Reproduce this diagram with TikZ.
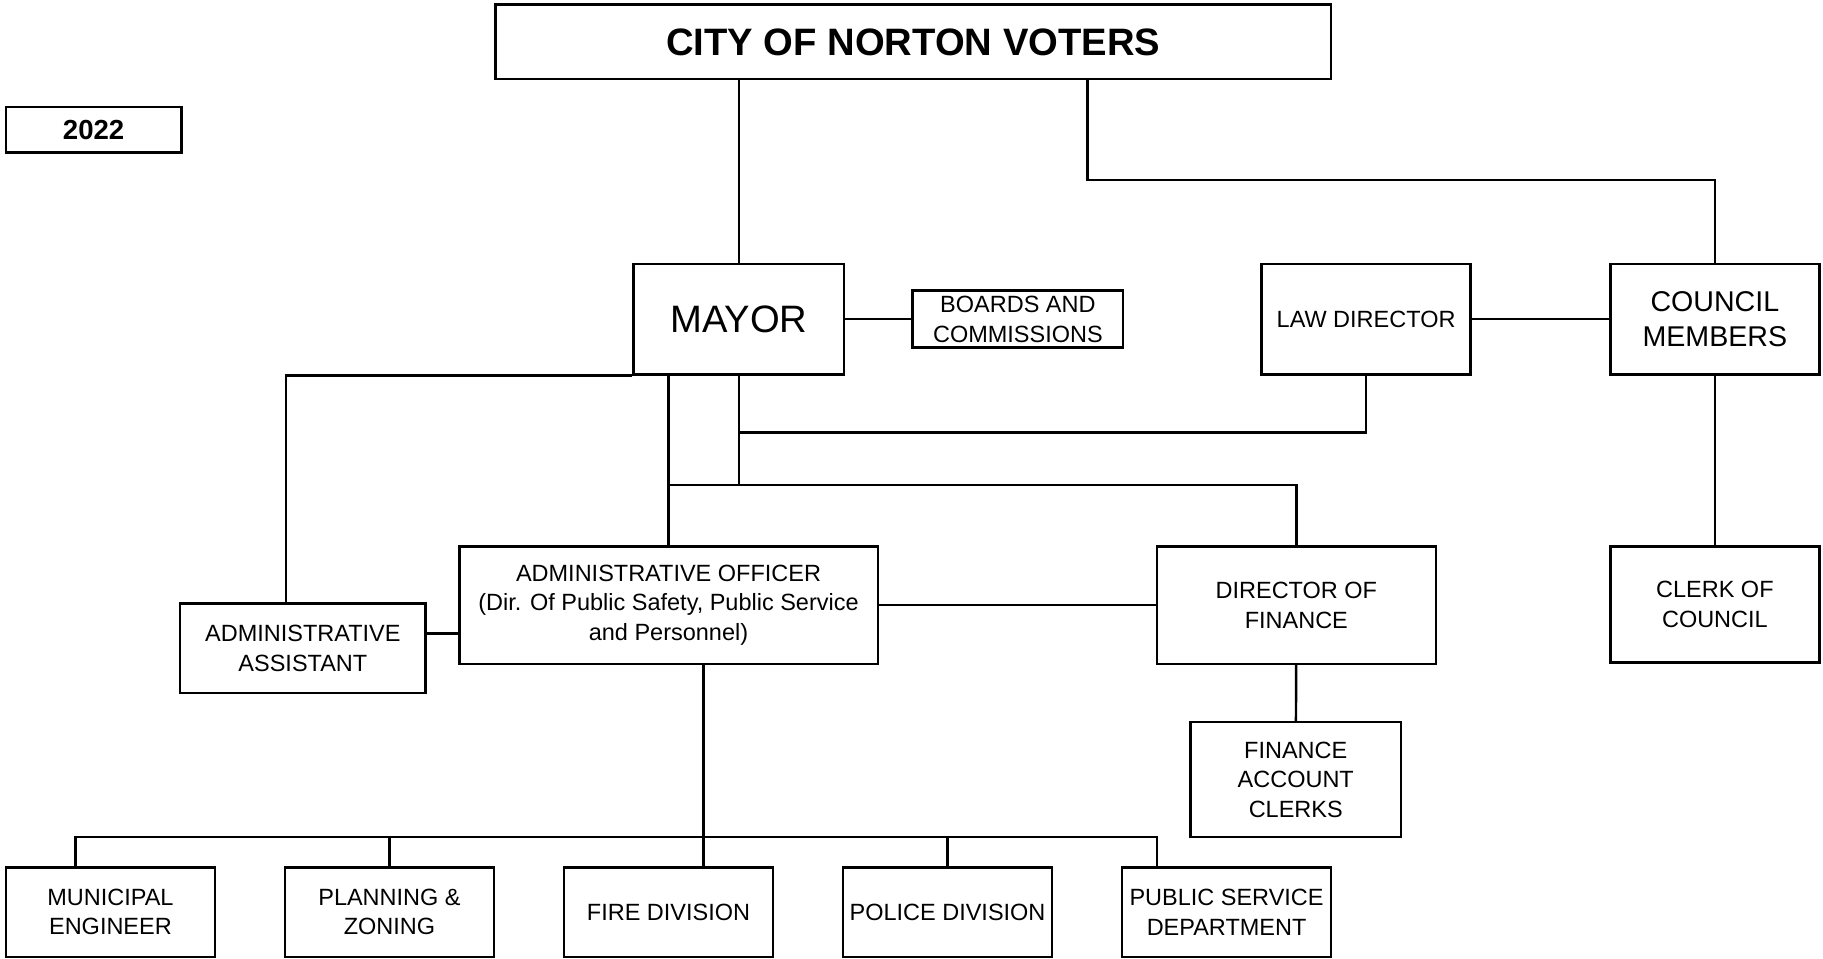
\documentclass[tikz,border=0pt]{standalone}
\usepackage{fontspec}
\setmainfont{Liberation Sans}
\usetikzlibrary{calc}

\begin{document}
\begin{tikzpicture}[x=0.02cm,y=-0.02cm,line width=1.2pt,
  box/.style={draw,rectangle,inner sep=0pt,align=center,font=\fontsize{11.5}{14.5}\selectfont},
  unit box/.style={box,minimum width=3.6cm,minimum height=1.54cm}]
  \useasboundingbox (0,0) rectangle (1568,824);
  \node[box,minimum width=14.38cm,minimum height=1.28cm,font=\fontsize{18.7}{22}\selectfont\bfseries] (voters) at (785.5,36) {CITY OF NORTON VOTERS};
  \node[box,minimum width=3.02cm,minimum height=0.78cm,font=\fontsize{13.5}{16}\selectfont\bfseries] (year) at (80.5,111.5) {2022};
  \node[box,minimum width=3.62cm,minimum height=1.9cm,font=\fontsize{18.7}{22}\selectfont] (mayor) at (635.5,274.5) {MAYOR};
  \node[box,minimum width=3.62cm,minimum height=0.98cm] (boards) at (875.5,274.5) {BOARDS AND\\COMMISSIONS};
  \node[box,minimum width=3.6cm,minimum height=1.9cm] (lawdir) at (1175,274.5) {LAW DIRECTOR};
  \node[box,minimum width=3.6cm,minimum height=1.9cm,font=\fontsize{14}{17}\selectfont] (council) at (1475,274.5) {COUNCIL\\MEMBERS};
  \node[box,minimum width=3.6cm,minimum height=2cm] (clerk) at (1475,520) {CLERK OF\\COUNCIL};
  \node[box,minimum width=4.22cm,minimum height=1.54cm] (assist) at (260.5,557.5) {ADMINISTRATIVE\\ASSISTANT};
  \node[box,minimum width=7.2cm,minimum height=2.02cm] (officer) at (575,520.5) {ADMINISTRATIVE OFFICER\\(Dir. Of Public Safety, Public Service\\and Personnel)};
  \node[box,minimum width=4.8cm,minimum height=2.02cm] (finance) at (1115,520.5) {DIRECTOR OF\\FINANCE};
  \node[box,minimum width=3.62cm,minimum height=1.98cm] (clerks) at (1114.5,670.5) {FINANCE\\ACCOUNT\\CLERKS};
  \foreach \n/\x/\t in {engineer/95/{MUNICIPAL\\ENGINEER},planning/335/{PLANNING \&\\ZONING},
      fire/575/{FIRE DIVISION},police/815/{POLICE DIVISION},psd/1055/{PUBLIC SERVICE\\DEPARTMENT}}
    \node[unit box] (\n) at (\x,784.5) {\t};

  \draw (mayor.north) -- (mayor.north |- voters.south);
  \draw ($(voters.south)+(150,0)$) -- ++(0,86) -| (council.north);
  \draw (mayor) -- (boards);
  \draw (lawdir) -- (council);
  \draw (council) -- (clerk);
  \draw (mayor.south west) -| ($(assist.north)+(-14.5,0)$);
  \draw (officer.north) -- (officer.north |- mayor.south);
  \coordinate (finbus) at ($(officer.north)+(0,-52)$);
  \draw (finbus) -| (finance.north);
  \draw (mayor.south) -- (mayor.south |- finbus);
  \draw (lawdir.south) |- ($(mayor.south)+(0,49)$);
  \draw ($(assist.east)+(0,-12.5)$) coordinate (aa) -- (aa -| officer.west);
  \draw (officer) -- (finance);
  \draw (finance) -- (clerks);
  \draw ($(fire.north)+(30,0)$) -- ($(officer.south)+(30,0)$);
  \draw ($(engineer.north)+(-30,0)$) -- ++(0,-25) -| ($(psd.north)+(-60,0)$);
  \foreach \n in {planning,police}
    \draw (\n.north) -- ++(0,-25);
\end{tikzpicture}
\end{document}
